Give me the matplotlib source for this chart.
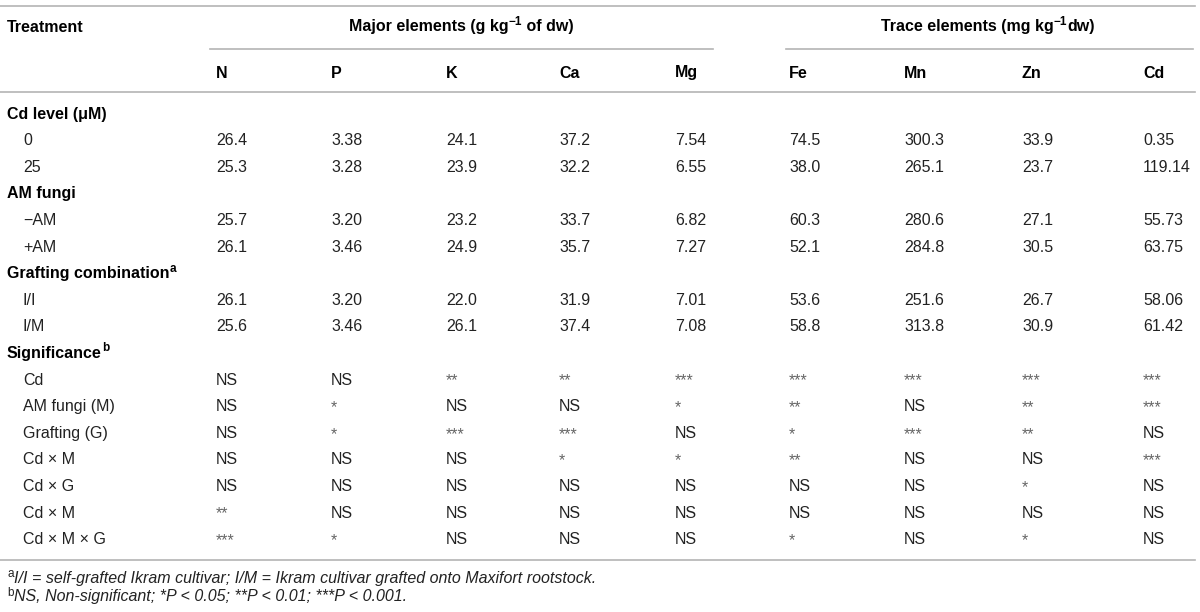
import matplotlib
matplotlib.use('Agg')
import matplotlib.pyplot as plt

plt.rcParams['font.family'] = ['Liberation Sans', 'DejaVu Sans']

# column headers
major_cols = ['N', 'P', 'K', 'Ca', 'Mg']
trace_cols = ['Fe', 'Mn', 'Zn', 'Cd']

# values per group (rows)
cd_labels = ['0', '25']
cd_vals = [
    ['26.4', '3.38', '24.1', '37.2', '7.54', '74.5', '300.3', '33.9', '0.35'],
    ['25.3', '3.28', '23.9', '32.2', '6.55', '38.0', '265.1', '23.7', '119.14'],
]
am_labels = ['\u2212AM', '+AM']
am_vals = [
    ['25.7', '3.20', '23.2', '33.7', '6.82', '60.3', '280.6', '27.1', '55.73'],
    ['26.1', '3.46', '24.9', '35.7', '7.27', '52.1', '284.8', '30.5', '63.75'],
]
graft_labels = ['I/I', 'I/M']
graft_vals = [
    ['26.1', '3.20', '22.0', '31.9', '7.01', '53.6', '251.6', '26.7', '58.06'],
    ['25.6', '3.46', '26.1', '37.4', '7.08', '58.8', '313.8', '30.9', '61.42'],
]
sig_labels = ['Cd', 'AM fungi (M)', 'Grafting (G)', 'Cd \u00d7 M', 'Cd \u00d7 G',
              'Cd \u00d7 M', 'Cd \u00d7 M \u00d7 G']
sig_vals = [
    ['NS', 'NS', '**', '**', '***', '***', '***', '***', '***'],
    ['NS', '*', 'NS', 'NS', '*', '**', 'NS', '**', '***'],
    ['NS', '*', '***', '***', 'NS', '*', '***', '**', 'NS'],
    ['NS', 'NS', 'NS', '*', '*', '**', 'NS', 'NS', '***'],
    ['NS', 'NS', 'NS', 'NS', 'NS', 'NS', 'NS', '*', 'NS'],
    ['**', 'NS', 'NS', 'NS', 'NS', 'NS', 'NS', 'NS', 'NS'],
    ['***', '*', 'NS', 'NS', 'NS', '*', 'NS', '*', 'NS'],
]

groups = [
    ('Cd level (\u03bcM)', '', cd_labels, cd_vals),
    ('AM fungi', '', am_labels, am_vals),
    ('Grafting combination', 'a', graft_labels, graft_vals),
    ('Significance', 'b', sig_labels, sig_vals),
]

TXT = '#222222'
LINE = '#b4b4b4'
FS = 11.5

fig = plt.figure(figsize=(12, 6.12), dpi=100)
ax = fig.add_axes([0, 0, 1, 1])
ax.set_xlim(0, 1200)
ax.set_ylim(612, 0)
ax.axis('off')
renderer = fig.canvas.get_renderer()

col_x = [216, 331, 446, 559, 675, 789, 904, 1022, 1143]


def width(s, **kw):
    t = ax.text(0, 0, s, **kw)
    w = t.get_window_extent(renderer).width
    t.remove()
    return w


def runs(x, y, pieces, ha='left'):
    # pieces: (text, kwargs, rise in px)
    ws = [width(s, **kw) for s, kw, r in pieces]
    tot = sum(ws)
    if ha == 'center':
        x = x - tot / 2
    for (s, kw, r), w in zip(pieces, ws):
        ax.text(x, y - r, s, va='center', **kw)
        x += w


bold = dict(fontsize=FS, fontweight='bold', color='black')
bsup = dict(fontsize=8.5, fontweight='bold', color='black')
reg = dict(fontsize=FS, color=TXT)

# rules
ax.plot([0, 1195], [6, 6], color=LINE, lw=1.2)
ax.plot([210, 713], [49, 49], color=LINE, lw=1.2)
ax.plot([786, 1193], [49, 49], color=LINE, lw=1.2)
ax.plot([0, 1195], [92, 92], color=LINE, lw=1.2)
ax.plot([0, 1195], [560, 560], color=LINE, lw=1.2)

# header
ax.text(7, 27, 'Treatment', va='center', **bold)
runs(461, 27, [('Major elements (g kg', bold, 0), ('\u22121', bsup, 5),
               (' of dw)', bold, 0)], ha='center')
runs(988, 27, [('Trace elements (mg kg', bold, 0), ('\u22121', bsup, 5),
               ('dw)', bold, 0)], ha='center')
for x, c in zip(col_x, major_cols + trace_cols):
    ax.text(x, 73, c, va='center', **bold)

# body
y = 114
pitch = 26.6
for name, sup, labels, vals in groups:
    pieces = [(name, bold, 0)]
    if sup:
        pieces.append((sup, bsup, 5))
    runs(7, y, pieces)
    y += pitch
    for lab, row in zip(labels, vals):
        ax.text(23, y, lab, va='center', **reg)
        for x, v in zip(col_x, row):
            if v.startswith('*'):
                ax.text(x, y + 1, v, va='center', fontsize=FS, color='#666666')
            else:
                ax.text(x, y, v, va='center', **reg)
        y += pitch

# footnotes
sup = dict(fontsize=8.5, color=TXT)
it = dict(fontsize=11.5, color=TXT, style='italic')
runs(7, 578, [('a', sup, 4),
              ('I/I = self-grafted Ikram cultivar; I/M = Ikram cultivar grafted onto Maxifort rootstock.', it, 0)])
runs(7, 597, [('b', sup, 4),
              ('NS, Non-significant; *P < 0.05; **P < 0.01; ***P < 0.001.', it, 0)])

fig.savefig('out.png', dpi=100)
